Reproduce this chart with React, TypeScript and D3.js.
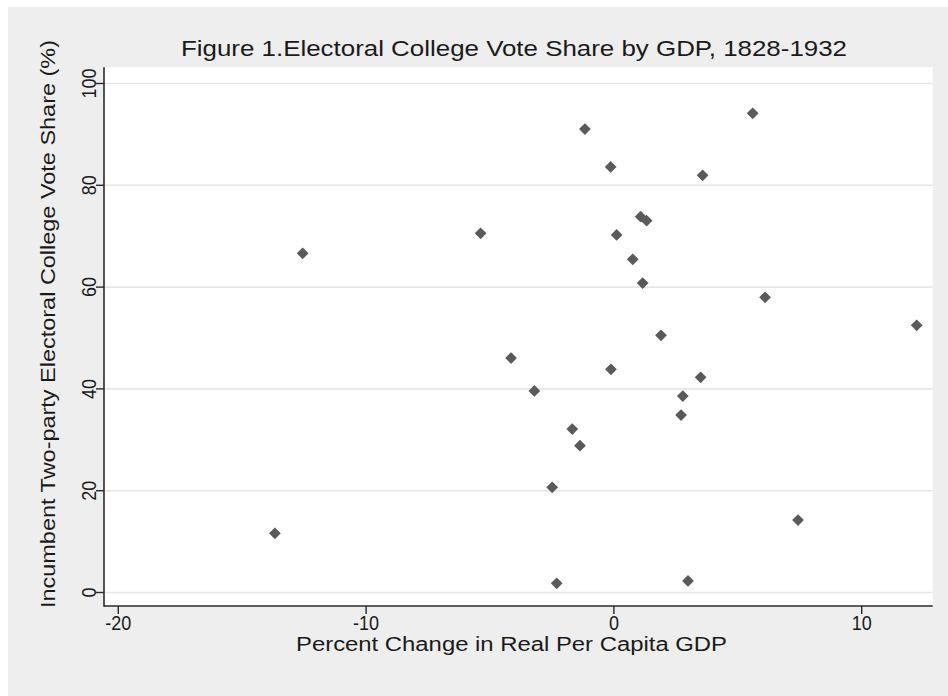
import React from "react";
import * as d3 from "d3";

const gdpChange = [
  -13.68, -12.56, -5.38, -4.15, -3.21, -1.68, -1.37, -2.49, -2.31, -1.17,
  -0.13, -0.12, 0.11, 0.76, 1.08, 1.32, 1.16, 1.9, 2.78, 2.71,
  2.99, 3.58, 3.5, 5.6, 6.1, 7.43, 12.22,
];
const voteShare = [
  11.63, 66.64, 70.57, 46.07, 39.59, 32.12, 28.84, 20.67, 1.81, 91.06,
  83.6, 43.85, 70.24, 65.46, 73.83, 73.05, 60.8, 50.53, 38.6, 34.87,
  2.26, 81.96, 42.28, 94.15, 58.0, 14.24, 52.5,
];
const xTicks = [-20, -10, 0, 10];
const yTicks = [0, 20, 40, 60, 80, 100];

const title = "Figure 1.Electoral College Vote Share by GDP, 1828-1932";
const xTitle = "Percent Change in Real Per Capita GDP";
const yTitle = "Incumbent Two-party Electoral College Vote Share (%)";

function labelLen(s: string) {
  let w = 0;
  for (const c of s) w += c === "-" ? 6 : 10;
  return w;
}

export default function App() {
  const W = 948;
  const H = 696;
  const left = 104;
  const right = 932.7;
  const top = 67.3;
  const bottom = 606;

  const x = d3.scaleLinear().domain([-20, 10]).range([118.3, 861.7]);
  const y = d3.scaleLinear().domain([0, 100]).range([592.5, 83.5]);

  const diamond = d3.symbol().type(d3.symbolDiamond2).size(88)();
  const font = "'Liberation Sans', Arial, sans-serif";
  const textColor = "#1a1a1a";

  const points = gdpChange.map((g, i) => ({ g, v: voteShare[i] }));

  return (
    <svg
      width={W}
      height={H}
      style={{ position: "absolute", left: 0, top: 0, display: "block" }}
    >
      <rect x={0} y={0} width={W} height={H} fill="#ffffff" />
      <rect x={8} y={7} width={W - 8} height={H - 7} fill="#eeeeee" />
      <rect x={left} y={top} width={right - left} height={bottom - top} fill="#ffffff" />

      {yTicks.map((t) => (
        <line
          key={"g" + t}
          x1={left}
          x2={right}
          y1={y(t)}
          y2={y(t)}
          stroke="#e6e6e6"
          strokeWidth={1.6}
        />
      ))}

      {points.map((p, i) => (
        <path
          key={i}
          d={diamond}
          transform={`translate(${x(p.g)},${y(p.v)})`}
          fill="#5a5a5a"
        />
      ))}

      <line x1={left} x2={left} y1={top} y2={bottom + 0.8} stroke="#2a2a2a" strokeWidth={1.6} />
      <line x1={left} x2={right} y1={bottom} y2={bottom} stroke="#2a2a2a" strokeWidth={1.6} />

      {xTicks.map((t) => (
        <g key={"x" + t}>
          <line x1={x(t)} x2={x(t)} y1={bottom} y2={bottom + 8} stroke="#2a2a2a" strokeWidth={1.4} />
          <text
            x={x(t)}
            y={630}
            textAnchor="middle"
            fontFamily={font}
            fontSize={20}
            fill={textColor}
            textLength={labelLen(String(t))}
            lengthAdjust="spacingAndGlyphs"
          >
            {t}
          </text>
        </g>
      ))}

      {yTicks.map((t) => (
        <g key={"y" + t}>
          <line x1={left - 8} x2={left} y1={y(t)} y2={y(t)} stroke="#2a2a2a" strokeWidth={1.4} />
          <text
            transform={`translate(96,${y(t)}) rotate(-90)`}
            textAnchor="middle"
            fontFamily={font}
            fontSize={20}
            fill={textColor}
            textLength={labelLen(String(t))}
            lengthAdjust="spacingAndGlyphs"
          >
            {t}
          </text>
        </g>
      ))}

      <text
        x={514}
        y={56}
        textAnchor="middle"
        fontFamily={font}
        fontSize={22}
        fill={textColor}
        textLength={666}
        lengthAdjust="spacingAndGlyphs"
      >
        {title}
      </text>

      <text
        x={511.5}
        y={651}
        textAnchor="middle"
        fontFamily={font}
        fontSize={20}
        fill={textColor}
        textLength={431}
        lengthAdjust="spacingAndGlyphs"
      >
        {xTitle}
      </text>

      <text
        transform={`translate(55,324) rotate(-90)`}
        textAnchor="middle"
        fontFamily={font}
        fontSize={20}
        fill={textColor}
        textLength={568}
        lengthAdjust="spacingAndGlyphs"
      >
        {yTitle}
      </text>
    </svg>
  );
}
